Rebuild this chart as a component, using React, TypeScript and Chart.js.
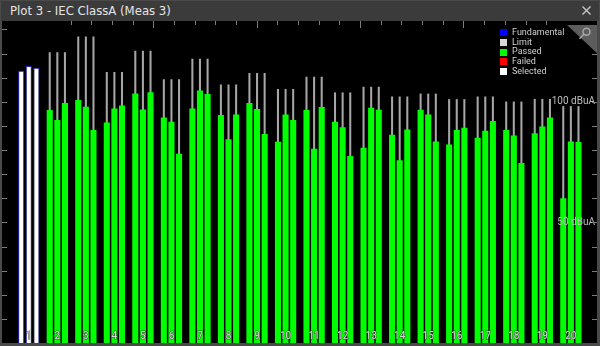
import React, { useEffect, useRef } from 'react';
import { Chart, registerables } from 'chart.js';

Chart.register(...registerables);

// ---- data ----
const categories = [1, 2, 3, 4, 5, 6, 7, 8, 9, 10, 11, 12, 13, 14, 15, 16, 17, 18, 19, 20];
const seriesA = [112.9, 96.6, 100.7, 91.4, 103.4, 93.5, 97.2, 94.5, 99.5, 83.4, 96.6, 91.7, 81.0, 86.3, 96.7, 82.3, 85.1, 88.3, 87.0, 60.0];
const seriesB = [114.8, 92.5, 98.0, 97.2, 96.8, 91.7, 104.7, 84.5, 97.0, 94.7, 80.5, 89.5, 97.5, 75.8, 94.7, 88.3, 88.0, 86.0, 89.8, 83.5];
const seriesC = [114.1, 99.5, 88.3, 98.5, 104.0, 78.5, 103.2, 94.7, 86.6, 92.5, 97.8, 77.5, 96.7, 88.5, 83.5, 89.2, 92.0, 74.6, 93.5, 83.3];
const limits: (number | null)[] = [null, 120.5, 127.1, 112.4, 121.2, 109.4, 117.8, 107.2, 111.9, 105.3, 110.4, 103.9, 106.2, 102.2, 103.4, 101.1, 102.2, 100.1, 101.2, 98.2];
const levelLabels = [50, 100];
const legendLabels = ['Fundamental', 'Limit', 'Passed', 'Failed', 'Selected'];
const legendColors = ['#0000ff', '#d8d8d8', '#00ff00', '#ff0000', '#ffffff'];

const GREEN = '#00ff00';

function toPoints(vals: (number | null)[]) {
  return categories.map((c, i) => ({ x: c, y: vals[i] }));
}

function mkBar(vals: number[], stack: string) {
  return {
    type: 'bar' as const,
    data: toPoints(vals),
    stack,
    order: 0,
    categoryPercentage: 0.8,
    barPercentage: 0.8,
    backgroundColor: (c: any) => (c.dataIndex === 0 ? '#ffffff' : GREEN),
    borderColor: (c: any) => (c.dataIndex === 0 ? '#2424c4' : GREEN),
    borderWidth: (c: any) => (c.dataIndex === 0 ? 1 : 0),
  };
}

function mkLimit(stack: string) {
  return {
    type: 'bar' as const,
    data: toPoints(limits),
    stack,
    order: 1,
    categoryPercentage: 0.8,
    barPercentage: 0.27,
    backgroundColor: '#a6a6a6',
    borderWidth: 0,
  };
}

const zeroPad = (s: any) => {
  s.paddingTop = 0;
  s.paddingBottom = 0;
  s.paddingLeft = 0;
  s.paddingRight = 0;
};

const edgeTicks = {
  id: 'edgeTicks',
  afterDraw(chart: any) {
    const { ctx, chartArea: a, scales } = chart;
    const y = scales.y;
    const xt = scales.xt;
    ctx.save();
    ctx.strokeStyle = '#7c7c7c';
    ctx.lineWidth = 1;
    ctx.beginPath();
    for (let v = 10; v <= 130; v += 10) {
      const p = Math.round(y.getPixelForValue(v)) + 0.5;
      ctx.moveTo(a.left, p);
      ctx.lineTo(a.left + 5, p);
      ctx.moveTo(a.right - 5, p);
      ctx.lineTo(a.right, p);
    }
    for (let k = 1; k <= 24; k++) {
      const p = Math.round(xt.getPixelForValue(k)) + 0.5;
      ctx.moveTo(p, a.top);
      ctx.lineTo(p, a.top + (k % 5 === 0 ? 7 : 4));
    }
    ctx.stroke();
    ctx.restore();
  },
};

export default function App() {
  const ref = useRef<HTMLCanvasElement>(null);

  useEffect(() => {
    document.body.style.margin = '0';
    if (!ref.current) return;
    const chart = new Chart(ref.current, {
      type: 'bar',
      data: {
        datasets: [
          mkBar(seriesA, 'a'),
          mkBar(seriesB, 'b'),
          mkBar(seriesC, 'c'),
          mkLimit('a'),
          mkLimit('b'),
          mkLimit('c'),
        ] as any,
      },
      options: {
        responsive: false,
        animation: false,
        layout: { padding: 0 },
        plugins: { legend: { display: false }, tooltip: { enabled: false } },
        scales: {
          x: {
            type: 'linear',
            min: 0.0606,
            max: 20.916,
            offset: false,
            grid: { display: false, drawTicks: false },
            border: { display: false },
            afterBuildTicks: (s: any) => {
              s.ticks = categories.map((v) => ({ value: v }));
            },
            afterFit: (s: any) => {
              s.height = 0;
              zeroPad(s);
            },
            ticks: {
              z: 1,
              mirror: true,
              color: '#d8d8d8',
              textStrokeColor: 'rgba(70,70,70,0.9)',
              textStrokeWidth: 1,
              font: { size: 10, family: 'Roboto, sans-serif' },
              padding: 1,
              maxRotation: 0,
              autoSkip: false,
              callback: (v: any) => String(v),
            },
          },
          xt: {
            type: 'linear',
            display: false,
            position: 'top',
            min: 0.0726,
            max: 24.06,
          },
          y: {
            type: 'linear',
            display: false,
            min: 0,
            max: 133.5,
            stacked: false,
          },
          yr: {
            type: 'linear',
            position: 'right',
            min: 0,
            max: 133.5,
            grid: { display: false, drawTicks: false },
            border: { display: false },
            afterBuildTicks: (s: any) => {
              s.ticks = levelLabels.map((v) => ({ value: v }));
            },
            afterFit: (s: any) => {
              s.width = 0;
              zeroPad(s);
            },
            ticks: {
              z: 1,
              mirror: true,
              padding: -2,
              color: '#bdbdbd',
              font: { size: 10, family: 'Roboto, sans-serif' },
              callback: (v: any) => `${v} dBuA`,
            },
          },
        },
      } as any,
      plugins: [edgeTicks],
    });
    return () => chart.destroy();
  }, []);

  return (
    <div style={{ position: 'relative', width: 600, height: 346, background: '#4a4a4a', overflow: 'hidden' }}>
      <div style={{ position: 'absolute', left: 1, top: 1, width: 598, height: 20, background: '#3b3b3b' }} />
      <div
        style={{
          position: 'absolute',
          left: 10,
          top: 3,
          fontSize: 13,
          lineHeight: '15px',
          color: '#e4e4e4',
          fontFamily: "'Liberation Sans Narrow', 'DejaVu Sans Condensed', Roboto, sans-serif",
          whiteSpace: 'nowrap',
        }}
      >
        Plot 3 - IEC ClassA (Meas 3)
      </div>
      <svg style={{ position: 'absolute', left: 581, top: 5 }} width={11} height={11}>
        <line x1={1.5} y1={1.5} x2={9.5} y2={9.5} stroke="#c4c4c4" strokeWidth={1.4} />
        <line x1={9.5} y1={1.5} x2={1.5} y2={9.5} stroke="#c4c4c4" strokeWidth={1.4} />
      </svg>
      <div style={{ position: 'absolute', left: 2, top: 21, width: 595, height: 322, background: '#000', overflow: 'hidden' }}>
        <canvas ref={ref} width={595} height={322} style={{ display: 'block', width: 595, height: 322 }} />
        <svg style={{ position: 'absolute', left: 0, top: 0, pointerEvents: 'none' }} width={595} height={322}>
          <polygon points="565,4 597,4 597,34" fill="#5c5c5c" />
          <circle cx={584.5} cy={10.7} r={3.5} fill="none" stroke="#a8a8a8" strokeWidth={1.5} />
          <line x1={582} y1={13.3} x2={577.5} y2={17.8} stroke="#a8a8a8" strokeWidth={1.6} />
        </svg>
        <div style={{ position: 'absolute', left: 498, top: 7, fontFamily: 'Roboto, sans-serif', fontSize: 9, color: '#d0d0d0' }}>
          {legendLabels.map((l, i) => (
            <div key={l} style={{ display: 'flex', alignItems: 'center', height: 9.7, whiteSpace: 'nowrap' }}>
              <span style={{ display: 'inline-block', width: 7, height: 7, background: legendColors[i], marginRight: 5 }} />
              <span style={{ lineHeight: '9.7px' }}>{l}</span>
            </div>
          ))}
        </div>
      </div>
    </div>
  );
}
